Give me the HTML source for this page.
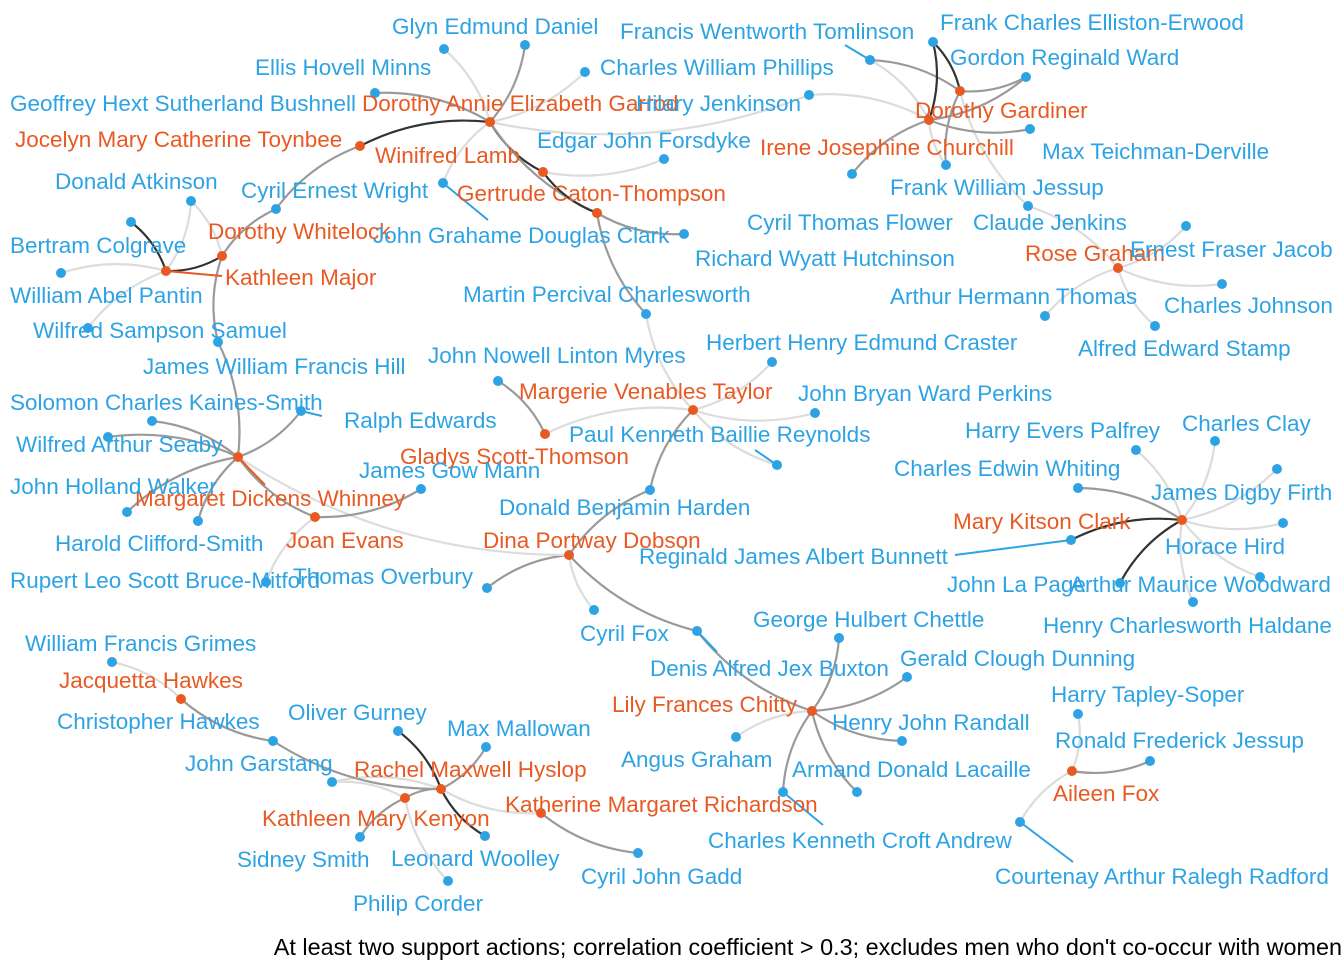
<!DOCTYPE html>
<html><head><meta charset="utf-8"><style>
html,body{margin:0;padding:0;background:#fff}
svg{display:block}
text{font-family:"Liberation Sans",Arial,sans-serif;font-size:22.5px}
</style></head><body>
<svg id="net" width="1344" height="960" viewBox="0 0 1344 960">
<g id="edges"></g>
<g id="leaders"></g>
<g id="nodes"></g>
<g id="labels"></g>
<text x="1342" y="955" text-anchor="end" fill="#000" style="font-size:23.4px">At least two support actions; correlation coefficient &gt; 0.3; excludes men who don't co-occur with women</text>
</svg>
<script>
const nodeIds=["garrod","toynbee","lamb","caton","gard1","gard2","whitelock","major","rose","margerie","gladys","whinney","joan","dobson","kitson","jacq","chitty","hyslop","kenyon","richardson","aileen",
"glyn","ellis","cwp","bushnell","hilary","tomlinson","elliston","ward","max","fjessup","flower","claude","edgar","richard","wright","clark","datkinson","colgrave","pantin","samuel","hill","martin","ernest","cjohnson","athomas","stamp","craster","myres","perkins","reynolds","solomon","ralph","seaby","walker","clifford","mann","harden","bruce","overbury","cfox","palfrey","clay","whiting","firth","hird","bunnett","lapage","woodward","haldane","grimes","chawkes","chettle","buxton","dunning","randall","angus","lacaille","andrew","gurney","mallowan","garstang","ssmith","woolley","corder","gadd","tapley","rjessup","radford"];
const nodeX=[490,360,543,597,960,929,222,166,1118,693,545,238,315,569,1182,181,812,441,405,541,1072,
525,444,585,375,809,870,933,1026,1030,946,852,1028,664,684,276,443,191,131,61,88,218,646,1186,1222,1045,1155,772,498,815,777,152,301,108,127,198,421,650,266,487,594,1136,1215,1078,1277,1283,1071,1260,1120,1193,112,273,839,697,907,902,736,857,783,398,486,332,360,485,448,638,1078,1150,1020];
const nodeY=[122,146,172,213,91,120,256,271,268,410,434,457,517,555,520,699,711,789,798,813,771,
45,49,72,93,95,60,42,77,129,165,174,206,159,234,209,183,201,222,273,328,342,314,226,284,316,326,362,381,413,465,421,411,437,512,521,489,490,582,588,610,450,441,488,469,523,540,577,583,602,662,741,638,631,677,741,737,792,792,731,747,782,837,836,881,853,714,761,822];
const names=["Dorothy Annie Elizabeth Garrod","Jocelyn Mary Catherine Toynbee","Winifred Lamb","Gertrude Caton-Thompson","Dorothy Gardiner","Irene Josephine Churchill","Dorothy Whitelock","Kathleen Major","Rose Graham","Margerie Venables Taylor","Gladys Scott-Thomson","Margaret Dickens Whinney","Joan Evans","Dina Portway Dobson","Mary Kitson Clark","Jacquetta Hawkes","Lily Frances Chitty","Rachel Maxwell Hyslop","Kathleen Mary Kenyon","Katherine Margaret Richardson","Aileen Fox",
"Glyn Edmund Daniel","Ellis Hovell Minns","Charles William Phillips","Geoffrey Hext Sutherland Bushnell","Hilary Jenkinson","Francis Wentworth Tomlinson","Frank Charles Elliston-Erwood","Gordon Reginald Ward","Max Teichman-Derville","Frank William Jessup","Cyril Thomas Flower","Claude Jenkins","Edgar John Forsdyke","Richard Wyatt Hutchinson","Cyril Ernest Wright","John Grahame Douglas Clark","Donald Atkinson","Bertram Colgrave","William Abel Pantin","Wilfred Sampson Samuel","James William Francis Hill","Martin Percival Charlesworth","Ernest Fraser Jacob","Charles Johnson","Arthur Hermann Thomas","Alfred Edward Stamp","Herbert Henry Edmund Craster","John Nowell Linton Myres","John Bryan Ward Perkins","Paul Kenneth Baillie Reynolds","Solomon Charles Kaines-Smith","Ralph Edwards","Wilfred Arthur Seaby","John Holland Walker","Harold Clifford-Smith","James Gow Mann","Donald Benjamin Harden","Rupert Leo Scott Bruce-Mitford","Thomas Overbury","Cyril Fox","Harry Evers Palfrey","Charles Clay","Charles Edwin Whiting","James Digby Firth","Horace Hird","Reginald James Albert Bunnett","John La Page","Arthur Maurice Woodward","Henry Charlesworth Haldane","William Francis Grimes","Christopher Hawkes","George Hulbert Chettle","Denis Alfred Jex Buxton","Gerald Clough Dunning","Henry John Randall","Angus Graham","Armand Donald Lacaille","Charles Kenneth Croft Andrew","Oliver Gurney","Max Mallowan","John Garstang","Sidney Smith","Leonard Woolley","Philip Corder","Cyril John Gadd","Harry Tapley-Soper","Ronald Frederick Jessup","Courtenay Arthur Ralegh Radford"];
const labelX=[362,15,375,457,915,760,208,225,1025,519,400,135,286,483,953,59,612,354,262,505,1053,
392,255,600,10,636,620,940,950,1042,890,747,973,537,695,241,373,55,10,10,33,143,463,1130,1164,890,1078,706,428,798,569,10,344,16,10,55,359,499,10,293,580,965,1182,894,1151,1165,639,947,1070,1043,25,57,753,650,900,832,621,792,708,288,447,185,237,391,353,581,1051,1055,995];
const labelY=[103,139,155,193,110,147,231,277,253,391,456,498,540,540,521,680,704,769,818,804,793,
26,67,67,103,103,31,22,57,151,187,222,222,140,258,190,235,181,245,295,330,366,294,249,305,296,348,342,355,393,434,402,420,444,486,543,470,507,580,576,633,430,423,468,492,546,556,584,584,625,643,721,619,668,658,722,759,769,840,712,728,763,859,858,903,876,694,740,876];
// edges grouped by cluster; strength 0 weak, 1 medium, 2 strong
const edgeFrom=[
"garrod","garrod","garrod","garrod","garrod","garrod","garrod","garrod","garrod",
"lamb","lamb","toynbee","wright","caton","caton","martin",
"margerie","margerie","margerie","margerie","margerie","gladys","harden",
"dobson","dobson","dobson","whinney","buxton",
"chitty","chitty","chitty","chitty","chitty","chitty",
"whinney","whinney","whinney","whinney","whinney","whinney","whinney","joan","joan",
"major","major","major","major","major","whitelock","whitelock",
"gard1","gard1","gard1","gard1","gard1",
"gard2","gard2","gard2","gard2","gard2","gard2","gard2",
"rose","rose","rose","rose","rose",
"kitson","kitson","kitson","kitson","kitson","kitson","kitson","kitson","kitson",
"aileen","aileen","aileen",
"hyslop","hyslop","hyslop","hyslop","hyslop","hyslop","kenyon","kenyon","kenyon","richardson",
"jacq","jacq","chawkes"];
const edgeTo=[
"glyn","ellis","cwp","bushnell","toynbee","lamb","caton","clark","hilary",
"edgar","caton","wright","whitelock","richard","martin","margerie",
"craster","perkins","reynolds","gladys","harden","myres","dobson",
"overbury","cfox","buxton","dobson","chitty",
"chettle","dunning","randall","angus","lacaille","andrew",
"ralph","solomon","seaby","walker","clifford","hill","joan","mann","bruce",
"colgrave","datkinson","pantin","samuel","whitelock","hill","datkinson",
"elliston","ward","tomlinson","fjessup","claude",
"elliston","ward","tomlinson","hilary","max","flower","fjessup",
"claude","ernest","cjohnson","athomas","stamp",
"palfrey","clay","whiting","firth","hird","bunnett","woodward","lapage","haldane",
"tapley","rjessup","radford",
"gurney","mallowan","garstang","kenyon","woolley","richardson","ssmith","corder","garstang","gadd",
"grimes","chawkes","hyslop"];
const edgeStrength=[
1,0,0,1,2,2,1,0,0,
0,2,1,1,1,1,0,
0,0,0,0,1,1,1,
1,0,1,0,1,
1,1,1,0,1,1,
1,1,1,1,1,1,1,1,0,
2,0,0,0,2,1,0,
2,1,1,1,0,
2,1,0,0,1,1,0,
0,0,0,0,0,
0,0,1,0,0,2,2,0,0,
0,1,0,
2,1,0,1,2,0,1,0,0,1,
0,1,1];
const leaderNodes=["tomlinson","clark","major","whinney","reynolds","bunnett","buxton","andrew","radford","ralph"];
const leaderEndX=[845,488,222,265,755,955,717,823,1073,322];
const leaderEndY=[45,220,276,485,450,555,652,825,862,416];

const NS="http://www.w3.org/2000/svg";
const idx=id=>nodeIds.indexOf(id);
const isF=i=>i<21;
const BLUE="#2ea3e3", ORANGE="#e85a23";
const shade=["#dcdcdc","#9a9a9a","#333333"];
const eg=document.getElementById('edges');
for(let k=0;k<edgeFrom.length;k++){
  const a=idx(edgeFrom[k]),b=idx(edgeTo[k]);
  if(a<0||b<0)continue;
  const x1=nodeX[a],y1=nodeY[a],x2=nodeX[b],y2=nodeY[b];
  const mx=(x1+x2)/2,my=(y1+y2)/2,dx=x2-x1,dy=y2-y1;
  const cx=mx-dy*0.15,cy=my+dx*0.15;
  const p=document.createElementNS(NS,'path');
  p.setAttribute('d',`M${x1},${y1}Q${cx},${cy} ${x2},${y2}`);
  p.setAttribute('fill','none');
  p.setAttribute('stroke',shade[edgeStrength[k]]);
  p.setAttribute('stroke-width','2.2');
  
  
  eg.appendChild(p);
}
const lg=document.getElementById('leaders');
for(let k=0;k<leaderNodes.length;k++){
  const a=idx(leaderNodes[k]);
  const l=document.createElementNS(NS,'line');
  l.setAttribute('x1',nodeX[a]);l.setAttribute('y1',nodeY[a]);
  l.setAttribute('x2',leaderEndX[k]);l.setAttribute('y2',leaderEndY[k]);
  l.setAttribute('stroke',isF(a)?ORANGE:BLUE);l.setAttribute('stroke-width','2');
  
  
  lg.appendChild(l);
}
const ng=document.getElementById('nodes'),tg=document.getElementById('labels');
for(let i=0;i<nodeIds.length;i++){
  const c=document.createElementNS(NS,'circle');
  c.setAttribute('cx',nodeX[i]);c.setAttribute('cy',nodeY[i]);c.setAttribute('r','5');
  c.setAttribute('fill',isF(i)?ORANGE:BLUE);
  
  
  ng.appendChild(c);
  const t=document.createElementNS(NS,'text');
  t.setAttribute('x',labelX[i]);t.setAttribute('y',labelY[i]+8);
  t.setAttribute('fill',isF(i)?ORANGE:BLUE);
  t.textContent=names[i];
  
  
  tg.appendChild(t);
}
</script>
</body></html>
